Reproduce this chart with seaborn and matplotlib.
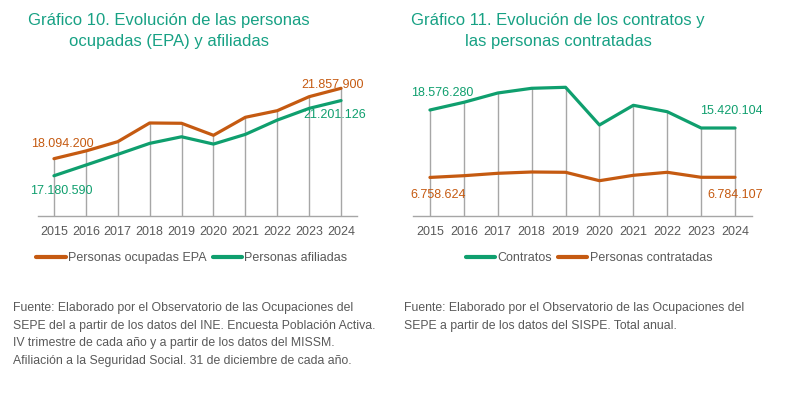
import matplotlib
matplotlib.use("Agg")
import matplotlib.pyplot as plt
import pandas as pd
import seaborn as sns

sns.set_style("white")
plt.rcParams["font.family"] = ["Liberation Sans", "DejaVu Sans"]

# Data
years = [2015, 2016, 2017, 2018, 2019, 2020, 2021, 2022, 2023, 2024]
ocupadas_epa = [18094200, 18505900, 19003000, 20002800, 19986800,
                19345200, 20307500, 20660400, 21408800, 21857900]
afiliadas = [17180590, 17752600, 18324700, 18912800, 19265600,
             18875400, 19393900, 20158400, 20784000, 21201126]
contratos = [18576280, 19925700, 21555500, 22379200, 22554400,
             15947600, 19400000, 18278400, 15420104, 15420104]
contratadas = [6758624, 7062500, 7483100, 7710900, 7658300,
               6186300, 7132600, 7658300, 6782100, 6784107]

title_left = "Gráfico 10. Evolución de las personas\nocupadas (EPA) y afiliadas"
title_right = "Gráfico 11. Evolución de los contratos y\nlas personas contratadas"
note_left = ("Fuente: Elaborado por el Observatorio de las Ocupaciones del\n"
             "SEPE del a partir de los datos del INE. Encuesta Población Activa.\n"
             "IV trimestre de cada año y a partir de los datos del MISSM.\n"
             "Afiliación a la Seguridad Social. 31 de diciembre de cada año.")
note_right = ("Fuente: Elaborado por el Observatorio de las Ocupaciones del\n"
              "SEPE a partir de los datos del SISPE. Total anual.")

ORANGE = "#C55A11"
GREEN = "#0F9F6E"
TITLE = "#17A184"
GRAY_TXT = "#595959"
GRID = "#A6A6A6"

W, H = 786, 398
fig = plt.figure(figsize=(W / 100, H / 100), dpi=100)


def px_axes(left, right, top, bottom):
    return fig.add_axes([left / W, 1 - bottom / H, (right - left) / W, (bottom - top) / H])


def draw_panel(ax, s1, s2, name1, name2, c1, c2, ylim):
    df = pd.DataFrame({"year": years * 2,
                       "value": s1 + s2,
                       "serie": [name1] * len(years) + [name2] * len(years)})
    top = [max(a, b) for a, b in zip(s1, s2)]
    ax.vlines(years, ylim[0], top, color=GRID, lw=1.0, zorder=1)
    sns.lineplot(data=df, x="year", y="value", hue="serie",
                 palette={name1: c1, name2: c2}, lw=2.3, ax=ax, zorder=3)
    ax.set_xlim(2014.5, 2024.5)
    ax.set_ylim(*ylim)
    ax.set_xticks(years)
    ax.set_xticklabels([str(y) for y in years], fontsize=9, color=GRAY_TXT)
    ax.set_yticks([])
    ax.set_xlabel("")
    ax.set_ylabel("")
    for s in ["top", "right", "left"]:
        ax.spines[s].set_visible(False)
    ax.spines["bottom"].set_color(GRID)
    ax.spines["bottom"].set_linewidth(1.0)
    ax.tick_params(axis="x", length=0, pad=7)
    ax.get_legend().remove()


def fmt(v):
    return f"{v:,}".replace(",", ".")


def label(ax, x, y, color, dx, dy):
    ax.annotate(fmt(y), (x, y), xytext=(dx, dy), textcoords="offset pixels",
                ha="center", va="center", fontsize=9, color=color, zorder=5)


# Left chart
ax1 = px_axes(38, 357, 70, 216)
draw_panel(ax1, ocupadas_epa, afiliadas, "Personas ocupadas EPA", "Personas afiliadas",
           ORANGE, GREEN, (15030000, 15030000 + 146 * 53462))
label(ax1, years[0], ocupadas_epa[0], ORANGE, 8.5, 14.7)
label(ax1, years[0], afiliadas[0], GREEN, 7.7, -15.3)
label(ax1, years[-1], ocupadas_epa[-1], ORANGE, -8, 3.3)
label(ax1, years[-1], afiliadas[-1], GREEN, -6.5, -14.3)

# Right chart
ax2 = px_axes(413, 752, 70, 216)
draw_panel(ax2, contratos, contratadas, "Contratos", "Personas contratadas",
           GREEN, ORANGE, (0, 146 * 175248))
label(ax2, years[0], contratos[0], GREEN, 12.4, 17.3)
label(ax2, years[-1], contratos[-1], GREEN, -3.3, 17.4)
label(ax2, years[0], contratadas[0], ORANGE, 8.5, -17.3)
label(ax2, years[-1], contratadas[-1], ORANGE, -0.3, -17.3)

# Legends
for ax, cx in [(ax1, 192), (ax2, 589)]:
    h, l = ax.get_legend_handles_labels()
    leg = ax.legend(h, l, loc="center", bbox_to_anchor=(cx / W, 1 - 258 / H),
                    bbox_transform=fig.transFigure, ncol=2, frameon=False,
                    fontsize=9, handlelength=2.35, handletextpad=0.2,
                    columnspacing=0.45)
    for t in leg.get_texts():
        t.set_color(GRAY_TXT)
    for ln in leg.get_lines():
        ln.set_linewidth(3)

# Titles
fig.text(169 / W, 1 - 31 / H, title_left, ha="center", va="center",
         fontsize=12, color=TITLE, linespacing=1.45)
fig.text(558 / W, 1 - 31 / H, title_right, ha="center", va="center",
         fontsize=12, color=TITLE, linespacing=1.45)

# Notes
fig.text(13 / W, 1 - 302 / H, note_left, ha="left", va="top",
         fontsize=8.8, color=GRAY_TXT, linespacing=1.62)
fig.text(404 / W, 1 - 302 / H, note_right, ha="left", va="top",
         fontsize=8.8, color=GRAY_TXT, linespacing=1.62)

fig.savefig("out.png", dpi=100, facecolor="white")
